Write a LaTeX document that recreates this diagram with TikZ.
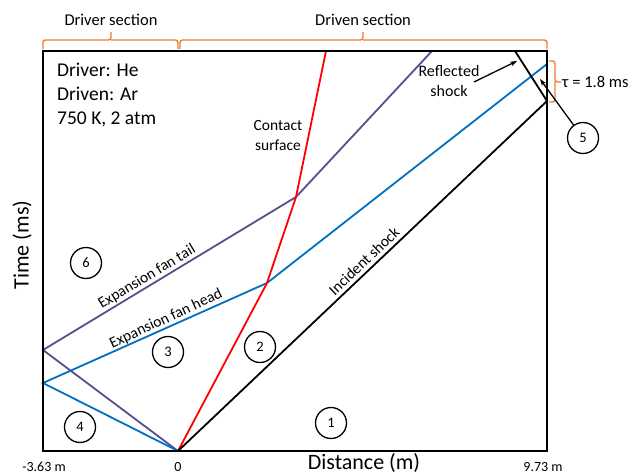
\documentclass[tikz,border=0pt]{standalone}
\usepackage{fontspec}
\setmainfont{Carlito}
\usetikzlibrary{arrows.meta}
\definecolor{shred}{RGB}{255,0,0}
\definecolor{shblue}{RGB}{0,112,192}
\definecolor{shpurple}{RGB}{96,74,140}
\definecolor{shorange}{RGB}{237,125,49}
\begin{document}
\begin{tikzpicture}[x=1pt,y=-1pt,
  wave/.style={line width=1.8pt},
  region/.style={circle,draw,line width=1.3pt,minimum size=31pt,inner sep=0pt,font=\fontsize{14.5}{16}\selectfont},
  bracebar/.style={shorange,line width=1.4pt,rounded corners=2.5pt},
  lbl/.style={font=\fontsize{15.5}{17}\selectfont,inner sep=0pt},
  seclbl/.style={font=\fontsize{16.5}{18}\selectfont,inner sep=0pt},
  axislbl/.style={font=\fontsize{22}{24}\selectfont,inner sep=0pt},
  ticklbl/.style={font=\fontsize{14}{16}\selectfont,inner sep=0pt},
  pointer/.style={-{Stealth[length=7pt,width=5pt]},line width=1.3pt}]
\useasboundingbox (0,0) rectangle (640,476);
\fill[white] (0,0) rectangle (640,476);
% frame
\coordinate (TL) at (43,51);
\coordinate (BR) at (547,451);
\coordinate (O) at (178,451);
% characteristic points
\coordinate (pw) at (43,350);
\coordinate (bw) at (43,383);
\coordinate (bc) at (267,283);
\coordinate (pc) at (296,197);
\coordinate (ptop) at (432,51);
\coordinate (btop) at (547,64);
\coordinate (rtop) at (326,51);
\coordinate (sr) at (547,101);
\coordinate (stop) at (515,51);
% lines
\draw[wave,shpurple] (O) -- (pw) -- (pc) -- (ptop);
\draw[wave,shblue] (O) -- (bw) -- (bc) -- (btop);
\draw[wave,shred] (O) -- (bc) -- (pc) -- (rtop);
\draw[wave,black] (O) -- (sr) -- (stop);
\draw[line width=2.2pt] (TL) rectangle (BR);
% braces
\draw[bracebar] (43,49) |- (111,40) -- (111,32);
\draw[bracebar] (111,40) -| (178,49);
\draw[bracebar] (180,49) |- (363,40) -- (363,32);
\draw[bracebar] (363,40) -| (547,49);
\draw[bracebar] (549,61) -| (555,82) -- (561,82);
\draw[bracebar] (555,82) |- (549,102);
\node[seclbl] (drs) at (111,20) {Driver section};
\node[seclbl] (dns) at (363,20) {Driven section};
\node[seclbl,anchor=west] (tau) at (562,82) {τ = 1.8 ms};
% info text
\node[anchor=north west,align=left,inner sep=0pt,font=\fontsize{19.5}{24}\selectfont] (info) at (57,63) {Driver: He\\Driven: Ar\\750 K, 2 atm};
% labels
\node[lbl,align=center,font=\fontsize{15.5}{20}\selectfont] (cs) at (278,136) {Contact\\surface};
\node[lbl,rotate=31] (eft) at (147,277) {Expansion fan tail};
\node[lbl,rotate=25] (efh) at (166,319) {Expansion fan head};
\node[lbl,rotate=43.5] (is) at (364,261) {Incident shock};
\node[lbl,align=center,font=\fontsize{16}{20}\selectfont] (rs) at (449,81) {Reflected\\shock};
\coordinate (rsa) at (474,82);
\coordinate (rsh) at (517,61);
\draw[pointer] (rsa) -- (rsh);
% regions
\node[region] (r1) at (331,423) {1};
\node[region] (r2) at (260,347) {2};
\node[region] (r3) at (168,352) {3};
\node[region] (r4) at (80,427) {4};
\node[region] (r5) at (583,138) {5};
\node[region] (r6) at (86,263) {6};
\coordinate (r5h) at (540,79);
\draw[pointer] (r5) -- (r5h);
% axes
\node[axislbl,rotate=90] (ty) at (22,245) {Time (ms)};
\node[axislbl] (tx) at (364,463) {Distance (m)};
\node[ticklbl] (xl) at (44,467) {-3.63 m};
\node[ticklbl] (x0) at (178,467) {0};
\node[ticklbl] (xr) at (543,467) {9.73 m};
\end{tikzpicture}
\end{document}
